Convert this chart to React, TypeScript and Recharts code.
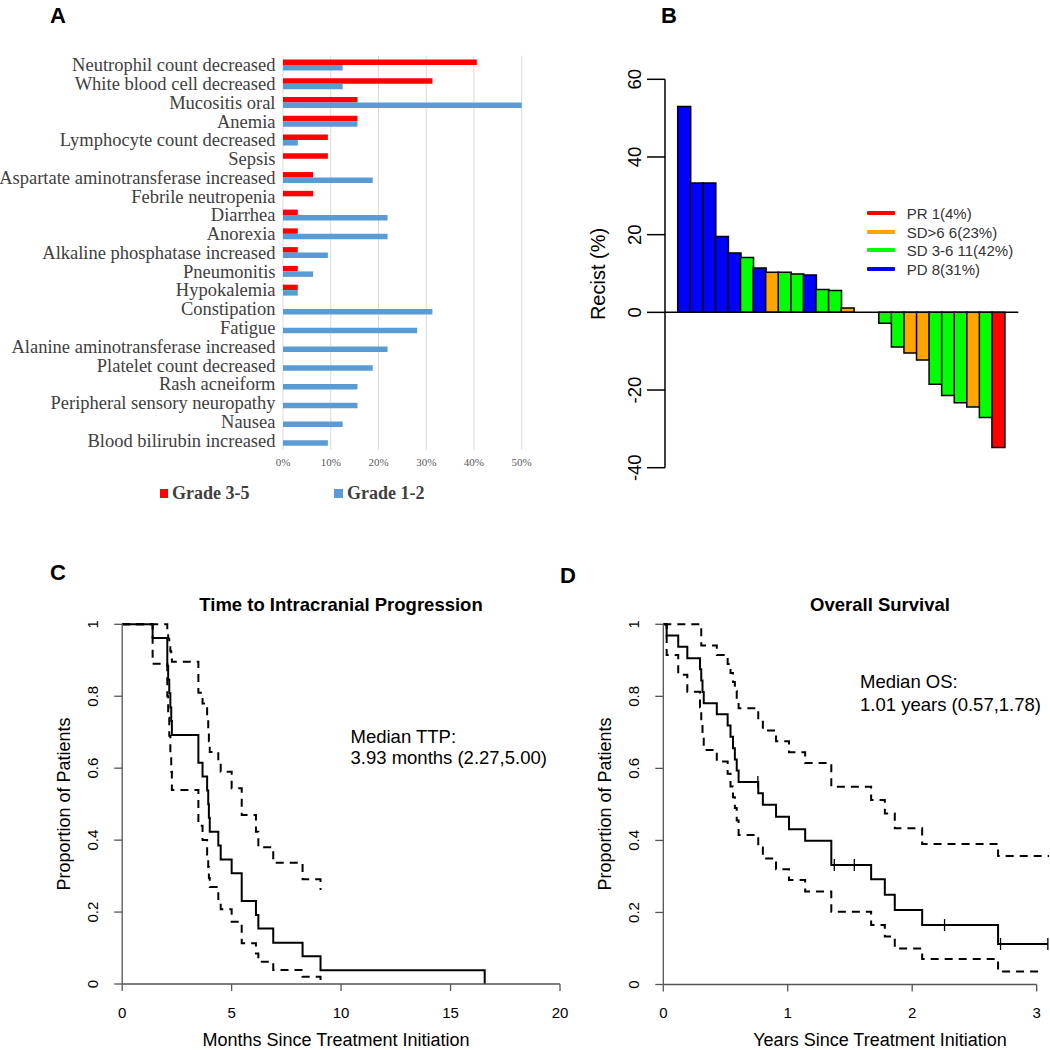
import React from "react";
import {
  BarChart,
  Bar,
  XAxis,
  YAxis,
  CartesianGrid,
  Cell,
  ReferenceLine,
  LineChart,
  Line,
} from "recharts";

const SERIF = '"Liberation Serif", "Times New Roman", serif';
const SANS = '"Liberation Sans", Arial, Helvetica, sans-serif';

// A: adverse events (% of patients)
const aeNames = [
  "Neutrophil count decreased",
  "White blood cell decreased",
  "Mucositis oral",
  "Anemia",
  "Lymphocyte count decreased",
  "Sepsis",
  "Aspartate aminotransferase increased",
  "Febrile neutropenia",
  "Diarrhea",
  "Anorexia",
  "Alkaline phosphatase increased",
  "Pneumonitis",
  "Hypokalemia",
  "Constipation",
  "Fatigue",
  "Alanine aminotransferase increased",
  "Platelet count decreased",
  "Rash acneiform",
  "Peripheral sensory neuropathy",
  "Nausea",
  "Blood bilirubin increased",
];
const grade35 = [40.6, 31.3, 15.6, 15.6, 9.4, 9.4, 6.3, 6.3, 3.1, 3.1, 3.1, 3.1, 3.1, 0, 0, 0, 0, 0, 0, 0, 0];
const grade12 = [12.5, 12.5, 50, 15.6, 3.1, 0, 18.8, 0, 21.9, 21.9, 9.4, 6.3, 3.1, 31.3, 28.1, 21.9, 18.8, 15.6, 15.6, 12.5, 9.4];
const pctTicks = [0, 10, 20, 30, 40, 50];

// B: waterfall of best RECIST change
const recistChange = [
  53, 33.3, 33.3, 19.5, 15.3, 14.1, 11.4, 10.3, 10.3, 9.9, 9.6, 5.9, 5.6, 1.1, 0, 0,
  -2.8, -8.9, -10.5, -12.3, -18.5, -21.4, -23.3, -24.4, -27.1, -34.8,
];
const recistResponse = [
  "PD", "PD", "PD", "PD", "PD", "SD 3-6", "PD", "SD>6", "SD 3-6", "SD 3-6", "PD", "SD 3-6", "SD 3-6",
  "SD>6", "PD", "SD>6", "SD 3-6", "SD 3-6", "SD>6", "SD>6", "SD 3-6", "SD 3-6", "SD 3-6", "SD>6",
  "SD 3-6", "PR",
];
const responseNames = ["PR", "SD>6", "SD 3-6", "PD"];
const responseLabels = ["PR 1(4%)", "SD>6 6(23%)", "SD 3-6 11(42%)", "PD 8(31%)"];
const responseColors = ["#FF0000", "#FFA500", "#00FF00", "#0000FF"];
const recistTicks = [-40, -20, 0, 20, 40, 60];

// C: time to intracranial progression (months)
const ttpMonths = [0, 1.39, 2.06, 2.1, 2.15, 2.2, 2.24, 2.27, 3.48, 3.67, 3.88, 3.93, 3.96, 4.0, 4.39, 4.5, 5.0, 5.46, 6.11, 6.22, 6.9, 8.24, 9.06, 16.56];
const ttpSurv = [1, 0.962, 0.885, 0.846, 0.808, 0.769, 0.731, 0.692, 0.615, 0.577, 0.538, 0.5, 0.462, 0.423, 0.385, 0.346, 0.308, 0.231, 0.192, 0.154, 0.115, 0.077, 0.038, 0];
const ttpUpper = [1, 1, 0.98, 0.96, 0.94, 0.925, 0.91, 0.896, 0.81, 0.78, 0.745, 0.71, 0.675, 0.645, 0.618, 0.59, 0.544, 0.47, 0.423, 0.38, 0.337, 0.291, 0.261, null];
const ttpLower = [1, 0.89, 0.8, 0.74, 0.69, 0.64, 0.59, 0.539, 0.44, 0.4, 0.36, 0.325, 0.295, 0.27, 0.236, 0.208, 0.173, 0.113, 0.085, 0.062, 0.039, 0.02, 0, null];
const ttpTicks = [0, 5, 10, 15, 20];

// D: overall survival (years)
const osYears = [0, 0.027, 0.12, 0.193, 0.295, 0.305, 0.315, 0.325, 0.43, 0.517, 0.54, 0.56, 0.575, 0.59, 0.605, 0.763, 0.8, 0.906, 1.01, 1.14, 1.35, 1.67, 1.78, 1.86, 2.08, 2.69];
const osSurv = [1, 0.969, 0.938, 0.906, 0.875, 0.844, 0.812, 0.781, 0.75, 0.719, 0.688, 0.656, 0.625, 0.594, 0.5625, 0.531, 0.499, 0.466, 0.431, 0.399, 0.332, 0.292, 0.249, 0.207, 0.165, 0.1125];
const osUpper = [1, 1, 1, 1, 1, 0.941, 0.941, 0.941, 0.915, 0.89, 0.865, 0.84, 0.815, 0.79, 0.767, 0.735, 0.705, 0.675, 0.645, 0.615, 0.549, 0.512, 0.475, 0.434, 0.39, 0.357];
const osLower = [1, 0.915, 0.86, 0.813, 0.77, 0.73, 0.69, 0.651, 0.619, 0.585, 0.55, 0.52, 0.49, 0.455, 0.415, 0.38, 0.35, 0.32, 0.29, 0.258, 0.202, 0.165, 0.133, 0.1, 0.071, 0.036];
const osLastFollowUp = [3.09, 3.1, 3.06]; // estimate, upper, lower
const osCensorYears = [0.76, 1.374, 1.535, 2.26, 2.71, 3.09];
const osCensorSurv = [0.5625, 0.332, 0.332, 0.165, 0.1125, 0.1125];
const osTicks = [0, 1, 2, 3];
const propTicks = [0, 0.2, 0.4, 0.6, 0.8, 1];

const aeRows = aeNames.map((name, i) => ({ name, g35: grade35[i], g12: grade12[i] }));
const recistRows = recistChange.map((value, i) => ({
  idx: i,
  value,
  color: responseColors[responseNames.indexOf(recistResponse[i])],
}));

function steps(ts: number[], vs: (number | null)[], end?: number) {
  const pts = ts.map((t, i) => ({ t, s: vs[i] })).filter((p) => p.s != null);
  if (end != null) pts.push({ t: end, s: pts[pts.length - 1].s });
  return pts;
}

function XTick(props: any) {
  const { x, y, payload, size, color, family, fmt } = props;
  return (
    <text x={x} y={y} dy="0.71em" textAnchor="middle" fontSize={size} fill={color} fontFamily={family}>
      {fmt ? fmt(payload.value) : payload.value}
    </text>
  );
}

function RotYTick(props: any) {
  const { x, y, payload, size } = props;
  return (
    <text x={x} y={y} transform={`rotate(-90 ${x} ${y})`} textAnchor="middle" fontSize={size} fill="#000" fontFamily={SANS}>
      {payload.value}
    </text>
  );
}

function NameTick(props: any) {
  const { x, y, payload } = props;
  return (
    <text x={x} y={y} dy="0.35em" textAnchor="end" fontSize={18.5} fill="#404040" fontFamily={SERIF}>
      {payload.value}
    </text>
  );
}

function Txt(props: {
  x: number;
  y: number;
  children: React.ReactNode;
  size?: number;
  bold?: boolean;
  anchor?: "start" | "middle";
  rotate?: boolean;
  family?: string;
  color?: string;
}) {
  const { x, y, children, size = 16, bold = false, anchor = "start", rotate = false, family = SANS, color = "#000" } = props;
  const transform = rotate
    ? "translate(-50%,-50%) rotate(-90deg)"
    : `translate(${anchor === "middle" ? "-50%" : "0"},-50%)`;
  return (
    <div
      style={{
        position: "absolute",
        left: x,
        top: y,
        transform,
        fontSize: size,
        fontWeight: bold ? 700 : 400,
        fontFamily: family,
        color,
        whiteSpace: "nowrap",
        lineHeight: 1,
      }}
    >
      {children}
    </div>
  );
}

function AdverseEvents() {
  return (
    <BarChart
      width={540}
      height={520}
      layout="vertical"
      data={aeRows}
      margin={{ top: 55.5, right: 18.3, bottom: 40.5, left: 0 }}
      barGap={0}
      barSize={5.5}
    >
      <CartesianGrid horizontal={false} stroke="#d9d9d9" />
      <XAxis
        type="number"
        domain={[0, 50]}
        ticks={pctTicks}
        axisLine={false}
        tickLine={false}
        tickSize={0}
        tickMargin={9}
        height={30}
        tick={(p: any) => <XTick {...p} size={11} color="#595959" family={SERIF} fmt={(v: number) => `${v}%`} />}
      />
      <YAxis
        type="category"
        dataKey="name"
        width={283}
        interval={0}
        axisLine={false}
        tickLine={false}
        tickSize={0}
        tickMargin={7.5}
        tick={(p: any) => <NameTick {...p} />}
      />
      <Bar dataKey="g35" fill="#FF0000" isAnimationActive={false} />
      <Bar dataKey="g12" fill="#5B9BD5" isAnimationActive={false} />
    </BarChart>
  );
}

function Waterfall() {
  return (
    <BarChart
      width={490}
      height={520}
      data={recistRows}
      margin={{ top: 79.3, right: 31.7, bottom: 52.3, left: 0 }}
      barCategoryGap={0}
    >
      <XAxis dataKey="idx" hide padding={{ left: 12.7, right: 13.8 }} />
      <YAxis
        type="number"
        domain={[-40, 60]}
        ticks={recistTicks}
        width={105}
        tickSize={18}
        tickMargin={6}
        axisLine={{ stroke: "#000", strokeWidth: 1.5 }}
        tickLine={{ stroke: "#000", strokeWidth: 1.5 }}
        tick={(p: any) => <RotYTick {...p} size={18.5} />}
      />
      <Bar dataKey="value" stroke="#000" strokeWidth={1.5} isAnimationActive={false}>
        {recistRows.map((r) => (
          <Cell key={`c-${r.idx}`} fill={r.color} />
        ))}
      </Bar>
      <ReferenceLine y={0} stroke="#000" strokeWidth={1.5} />
    </BarChart>
  );
}

function CensorMark(props: any) {
  const { cx, cy, index } = props;
  if (cx == null || cy == null) return <g key={`m-${index}`} />;
  return <line key={`m-${index}`} x1={cx} x2={cx} y1={cy - 6} y2={cy + 6} stroke="#000" strokeWidth={1.3} />;
}

const AXIS = { stroke: "#555", strokeWidth: 1.3 };

function KMChart(props: {
  width: number;
  margin: { top: number; right: number; bottom: number; left: number };
  yWidth: number;
  domain: [number, number];
  ticks: number[];
  fullAxis: boolean;
  est: { t: number; s: number | null }[];
  upper: { t: number; s: number | null }[];
  lower: { t: number; s: number | null }[];
  censor?: { t: number; s: number }[];
}) {
  const { width, margin, yWidth, domain, ticks, fullAxis, est, upper, lower, censor } = props;
  return (
    <LineChart width={width} height={490} margin={margin}>
      <XAxis
        type="number"
        dataKey="t"
        domain={domain}
        ticks={ticks}
        allowDataOverflow
        height={40}
        tickSize={7}
        tickMargin={16}
        axisLine={fullAxis ? AXIS : false}
        tickLine={AXIS}
        tick={(p: any) => <XTick {...p} size={15} color="#000" family={SANS} />}
      />
      <YAxis
        type="number"
        domain={[0, 1]}
        ticks={propTicks}
        width={yWidth}
        tickSize={8}
        tickMargin={16}
        axisLine={AXIS}
        tickLine={AXIS}
        tick={(p: any) => <RotYTick {...p} size={15} />}
      />
      {!fullAxis && (
        <ReferenceLine
          segment={[
            { x: ticks[0], y: 0 },
            { x: ticks[ticks.length - 1], y: 0 },
          ]}
          stroke="#555"
          strokeWidth={1.3}
        />
      )}
      <Line data={upper} dataKey="s" type="stepAfter" stroke="#000" strokeWidth={2} strokeDasharray="8 6" dot={false} activeDot={false} isAnimationActive={false} />
      <Line data={lower} dataKey="s" type="stepAfter" stroke="#000" strokeWidth={2} strokeDasharray="8 6" dot={false} activeDot={false} isAnimationActive={false} />
      <Line data={est} dataKey="s" type="stepAfter" stroke="#000" strokeWidth={2} dot={false} activeDot={false} isAnimationActive={false} />
      {censor && (
        <Line data={censor} dataKey="s" stroke="none" dot={(p: any) => <CensorMark {...p} />} activeDot={false} isAnimationActive={false} />
      )}
    </LineChart>
  );
}

export default function App() {
  const osCensor = osCensorYears.map((t, i) => ({ t, s: osCensorSurv[i] }));
  return (
    <div style={{ position: "absolute", left: 0, top: 0, width: 1050, height: 1050, background: "#fff", overflow: "hidden" }}>
      <div style={{ position: "absolute", left: 0, top: 0 }}>
        <AdverseEvents />
      </div>
      <div style={{ position: "absolute", left: 560, top: 0 }}>
        <Waterfall />
      </div>
      <div style={{ position: "absolute", left: 0, top: 560 }}>
        <KMChart
          width={570}
          margin={{ top: 64.3, right: 10, bottom: 26, left: 0 }}
          yWidth={122.2}
          domain={[0, 20]}
          ticks={ttpTicks}
          fullAxis
          est={steps(ttpMonths, ttpSurv)}
          upper={steps(ttpMonths, ttpUpper)}
          lower={steps(ttpMonths, ttpLower)}
        />
      </div>
      <div style={{ position: "absolute", left: 560, top: 560 }}>
        <KMChart
          width={490}
          margin={{ top: 64.3, right: 0.9, bottom: 25.5, left: 0 }}
          yWidth={103.3}
          domain={[0, 3.1]}
          ticks={osTicks}
          fullAxis={false}
          est={steps(osYears, osSurv, osLastFollowUp[0])}
          upper={steps(osYears, osUpper, osLastFollowUp[1])}
          lower={steps(osYears, osLower, osLastFollowUp[2])}
          censor={osCensor}
        />
      </div>

      {/* panel letters */}
      <Txt x={50} y={16} size={22} bold>A</Txt>
      <Txt x={661} y={16} size={22} bold>B</Txt>
      <Txt x={50} y={573} size={22} bold>C</Txt>
      <Txt x={560} y={576} size={22} bold>D</Txt>

      {/* A legend */}
      <div style={{ position: "absolute", left: 159.5, top: 489, width: 8.5, height: 8.5, background: "#FF0000" }} />
      <Txt x={172} y={493} size={18} bold family={SERIF} color="#404040">Grade 3-5</Txt>
      <div style={{ position: "absolute", left: 334, top: 489, width: 8.5, height: 8.5, background: "#5B9BD5" }} />
      <Txt x={347} y={493} size={18} bold family={SERIF} color="#404040">Grade 1-2</Txt>

      {/* B legend and axis title */}
      {responseLabels.map((lab, i) => (
        <React.Fragment key={lab}>
          <div style={{ position: "absolute", left: 866.7, top: 211 + i * 18.5, width: 28.3, height: 4, background: responseColors[i], borderRadius: 1 }} />
          <Txt x={906.7} y={213 + i * 18.5} size={15} color="#333">{lab}</Txt>
        </React.Fragment>
      ))}
      <Txt x={598} y={273.5} size={20} rotate>Recist (%)</Txt>

      {/* C texts */}
      <Txt x={341} y={605} size={18.5} bold anchor="middle">Time to Intracranial Progression</Txt>
      <Txt x={350.5} y={736.7} size={18.5}>Median TTP:</Txt>
      <Txt x={350.5} y={758.3} size={18.5}>3.93 months (2.27,5.00)</Txt>
      <Txt x={336} y={1040} size={18} anchor="middle">Months Since Treatment Initiation</Txt>
      <Txt x={64} y={804} size={18} rotate>Proportion of Patients</Txt>

      {/* D texts */}
      <Txt x={880} y={605} size={18.5} bold anchor="middle">Overall Survival</Txt>
      <Txt x={860} y={681.7} size={18.5}>Median OS:</Txt>
      <Txt x={860} y={705} size={18.5}>1.01 years (0.57,1.78)</Txt>
      <Txt x={880} y={1040} size={18} anchor="middle">Years Since Treatment Initiation</Txt>
      <Txt x={605} y={804} size={18} rotate>Proportion of Patients</Txt>
    </div>
  );
}
